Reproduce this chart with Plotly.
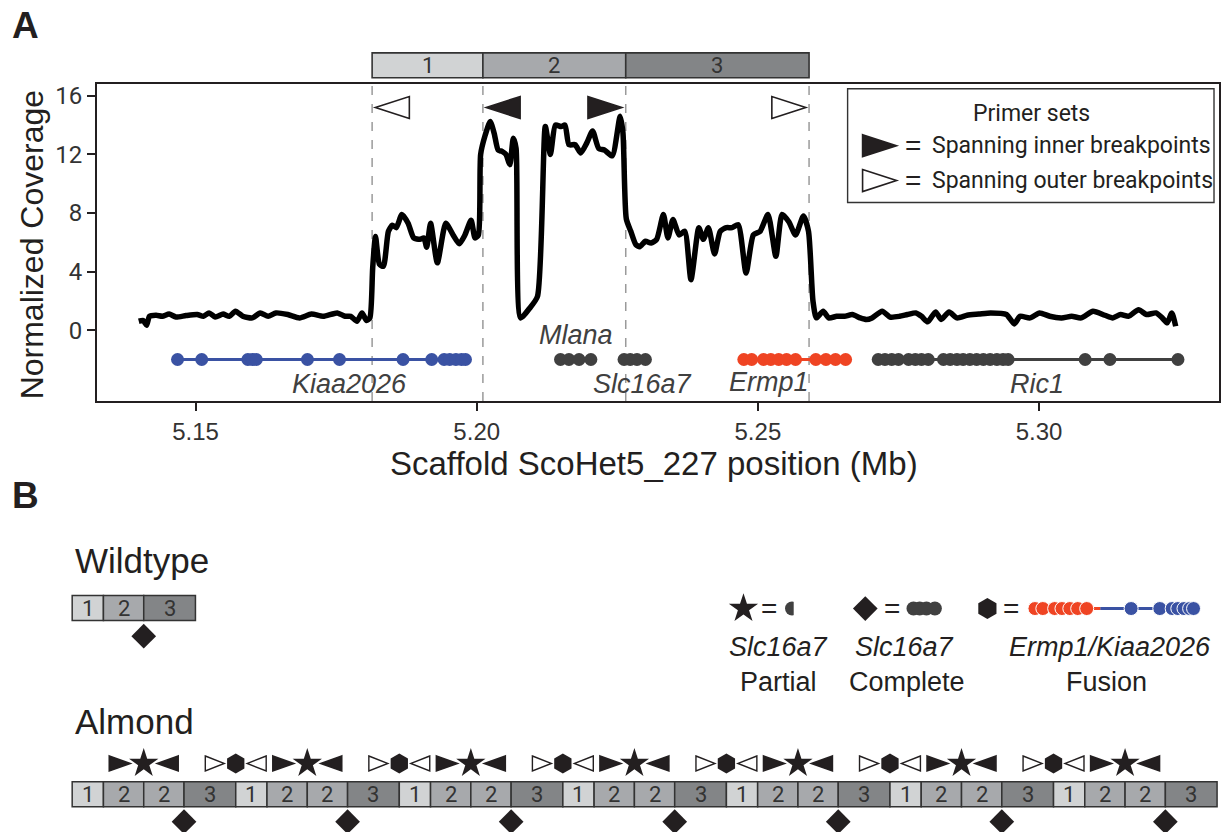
import plotly.graph_objects as go

W, H = 1221, 832

# ---------------- data ----------------
cov_pos = [5.1399, 5.1407, 5.1413, 5.1418, 5.1430, 5.1441, 5.1453, 5.1465, 5.1483, 5.1503,
           5.1514, 5.1524, 5.1535, 5.1549, 5.1560, 5.1571, 5.1584, 5.1601, 5.1615, 5.1629,
           5.1643, 5.1664, 5.1685, 5.1706, 5.1727, 5.1752, 5.1766, 5.1776, 5.1787, 5.1796,
           5.1804, 5.1810, 5.1815, 5.1820, 5.1827, 5.1834, 5.1843, 5.1850, 5.1857, 5.1867,
           5.1878, 5.1888, 5.1899, 5.1906, 5.1911, 5.1918, 5.1930, 5.1945, 5.1958, 5.1969,
           5.1979, 5.1990, 5.1997, 5.2003, 5.2007, 5.2015, 5.2024, 5.2031, 5.2038, 5.2045,
           5.2052, 5.2059, 5.2065, 5.2070, 5.2078, 5.2094, 5.2108, 5.2122, 5.2131, 5.2140,
           5.2150, 5.2157, 5.2164, 5.2175, 5.2185, 5.2196, 5.2206, 5.2217, 5.2227, 5.2241,
           5.2255, 5.2260, 5.2266, 5.2274, 5.2283, 5.2290, 5.2300, 5.2310, 5.2320, 5.2332,
           5.2340, 5.2349, 5.2360, 5.2370, 5.2381, 5.2395, 5.2403, 5.2412, 5.2423, 5.2433,
           5.2444, 5.2454, 5.2465, 5.2479, 5.2492, 5.2504, 5.2518, 5.2532, 5.2543, 5.2555,
           5.2567, 5.2581, 5.2590, 5.2598, 5.2604, 5.2616, 5.2626, 5.2640, 5.2654, 5.2668,
           5.2682, 5.2693, 5.2703, 5.2721, 5.2735, 5.2752, 5.2766, 5.2781, 5.2791, 5.2802,
           5.2816, 5.2826, 5.2840, 5.2854, 5.2872, 5.2893, 5.2914, 5.2942, 5.2956, 5.2966,
           5.2984, 5.3001, 5.3019, 5.3040, 5.3058, 5.3075, 5.3096, 5.3117, 5.3131, 5.3145,
           5.3159, 5.3177, 5.3191, 5.3208, 5.3219, 5.3228, 5.3236, 5.3243]
cov_val = [0.61, 0.66, 0.34, 0.95, 1.02, 0.95, 1.10, 0.90, 1.00, 1.07,
           0.95, 1.18, 0.90, 1.10, 0.95, 1.30, 0.95, 0.84, 1.18, 0.95,
           1.18, 1.07, 0.84, 1.10, 0.95, 1.18, 0.95, 0.95, 0.61, 1.18,
           0.66, 0.84, 4.25, 6.40, 4.50, 4.36, 6.75, 7.16, 7.00, 7.90,
           7.30, 6.30, 6.20, 6.30, 5.66, 7.30, 4.60, 7.30, 6.50, 5.90,
           6.50, 7.50, 6.30, 6.50, 12.00, 13.30, 14.25, 13.45, 12.30, 12.20,
           12.00, 11.30, 13.10, 12.40, 0.84, 1.50, 2.30, 13.90, 12.00, 14.00,
           13.90, 14.00, 12.66, 12.66, 12.10, 12.80, 13.60, 12.40, 12.30, 11.90,
           14.60, 13.50, 7.60, 6.75, 5.84, 5.70, 6.07, 5.95, 6.20, 7.90,
           6.30, 7.55, 6.50, 6.75, 3.45, 7.00, 6.20, 7.00, 5.20, 6.75,
           7.00, 7.00, 7.20, 3.90, 6.50, 6.75, 7.90, 5.05, 7.90, 7.40,
           6.50, 7.80, 6.75, 1.98, 0.84, 1.30, 0.84, 0.95, 0.95, 1.07,
           0.84, 0.73, 0.84, 1.30, 0.90, 0.95, 1.07, 1.18, 0.95, 0.57,
           1.25, 0.73, 1.25, 0.84, 1.02, 1.10, 1.18, 1.07, 0.43, 0.95,
           0.84, 1.18, 0.95, 0.84, 0.95, 0.84, 1.30, 1.02, 0.84, 1.07,
           0.95, 1.40, 1.07, 1.18, 0.84, 0.50, 1.18, 0.27]

breakpoints = [5.1814, 5.2011, 5.2265, 5.2591]
segment_labels = ["1", "2", "3"]

primer_pos = [5.1850, 5.2047, 5.2228, 5.2555]
primer_dir = ["left", "left", "right", "right"]
primer_filled = [False, True, True, False]
primer_level = 15.2

kiaa2026_exons = [5.1468, 5.1511, 5.1593, 5.1601, 5.1608, 5.1699, 5.1756, 5.1869, 5.1920,
                  5.1942, 5.1952, 5.1963, 5.1973, 5.1980]
mlana_exons = [5.2149, 5.2164, 5.2182, 5.2203]
slc16a7_exons = [5.2262, 5.2273, 5.2285, 5.2300]
ermp1_exons = [5.2475, 5.2489, 5.2510, 5.2523, 5.2537, 5.2551, 5.2567, 5.2603, 5.2621,
               5.2638, 5.2656]
ric1_exons = [5.2714, 5.2726, 5.2738, 5.2750, 5.2768, 5.2780, 5.2791, 5.2803, 5.2830,
              5.2842, 5.2854, 5.2865, 5.2877, 5.2889, 5.2901, 5.2913, 5.2925, 5.2936,
              5.2945, 5.3082, 5.3126, 5.3247]
gene_track_level = -2.0

wildtype_order = [1, 2, 3]
almond_order = [1, 2, 2, 3] * 7

# ---------------- styles ----------------
SANS = "Liberation Sans, Arial, sans-serif"
NARROW = "Roboto, Liberation Sans, sans-serif"
INK = "#231f20"
GREY_TXT = "#404040"
SEG_COL = {1: "#d1d3d4", 2: "#a7a9ac", 3: "#838587"}
BLUE = "#3a52a3"
RED = "#ef4423"
DARK = "#404040"

XR = [5.1325, 5.3320]
YR = [-4.834, 16.817]
XDOM = [97.3 / W, 1.0]
YDOM = [1 - 400 / H, 1 - 82 / H]
PX_PER_MB = (W * (XDOM[1] - XDOM[0])) / (XR[1] - XR[0])
PX_PER_Y = (H * (YDOM[1] - YDOM[0])) / (YR[1] - YR[0])
B_SCALE = 1589.0  # px per Mb for the schematic boxes

fig = go.Figure()
shapes = []
annos = []


def tri_path(cx, cy, direction, w, h):
    if direction == "right":
        pts = [(cx - w / 2, cy - h / 2), (cx + w / 2, cy), (cx - w / 2, cy + h / 2)]
    else:
        pts = [(cx + w / 2, cy - h / 2), (cx - w / 2, cy), (cx + w / 2, cy + h / 2)]
    return "M{},{} L{},{} L{},{} Z".format(*[v for p in pts for v in p])


def tri_shape(cx, cy, direction, w, h, filled, xref, yref, lw=1.6):
    return dict(type="path", path=tri_path(cx, cy, direction, w, h), xref=xref, yref=yref,
                fillcolor=INK if filled else "white", line=dict(color=INK, width=lw))


def txt(x, y, s, size, family=SANS, color=INK, xanchor="center", **kw):
    d = dict(x=x, y=y, xref="x2", yref="y2", text=s, showarrow=False,
             font=dict(size=size, family=family, color=color), xanchor=xanchor,
             yanchor="middle")
    d.update(kw)
    annos.append(d)


# ---------------- panel A ----------------
fig.add_trace(go.Scatter(x=cov_pos, y=cov_val, mode="lines",
                         line=dict(color="black", width=5.5, shape="spline", smoothing=0.6),
                         hoverinfo="skip", showlegend=False))


def gene_trace(exons, color):
    fig.add_trace(go.Scatter(x=exons, y=[gene_track_level] * len(exons), mode="lines+markers",
                             line=dict(color=color, width=3),
                             marker=dict(color=color, size=13, opacity=1),
                             hoverinfo="skip", showlegend=False))


gene_trace(kiaa2026_exons, BLUE)
gene_trace(mlana_exons, DARK)
gene_trace(slc16a7_exons, DARK)
gene_trace(ermp1_exons, RED)
gene_trace(ric1_exons, DARK)

gene_labels = [("Kiaa2026", 5.1774, -3.65), ("Mlana", 5.2177, -0.35), ("Slc16a7", 5.2294, -3.65),
               ("Ermp1", 5.2520, -3.55), ("Ric1", 5.2997, -3.65)]
for name, gx, gy in gene_labels:
    annos.append(dict(x=gx, y=gy, xref="x", yref="y", text="<i>%s</i>" % name, showarrow=False,
                      font=dict(size=27, family=SANS, color=GREY_TXT)))

# dashed breakpoint lines
for b in breakpoints:
    shapes.append(dict(type="line", x0=b, x1=b, y0=0, y1=1, xref="x", yref="y domain",
                       line=dict(color="#9a9a9a", width=1.5, dash="dash"), layer="below"))

# segment boxes above the plot
for i, lab in enumerate(segment_labels):
    x0, x1 = breakpoints[i], breakpoints[i + 1]
    shapes.append(dict(type="rect", x0=x0, x1=x1, y0=51, y1=76, xref="x", yref="y2",
                       fillcolor=SEG_COL[i + 1], line=dict(color="#333333", width=1.6)))
    annos.append(dict(x=(x0 + x1) / 2, y=63.5, xref="x", yref="y2", text=lab, showarrow=False,
                      font=dict(size=22, family=NARROW, color="#333333"), yanchor="middle"))

# primer triangles
for p, d, f in zip(primer_pos, primer_dir, primer_filled):
    shapes.append(tri_shape(p, primer_level, d, 34 / PX_PER_MB, 22 / PX_PER_Y, f, "x", "y"))

# legend box
shapes.append(dict(type="rect", x0=849, x1=1216, y0=87, y1=201, xref="x2", yref="y2",
                   fillcolor="white", line=dict(color="#333333", width=1.4)))
txt(1033, 112, "Primer sets", 23, NARROW)
shapes.append(tri_shape(881, 144, "right", 34, 22, True, "x2", "y2"))
shapes.append(tri_shape(881, 179, "right", 34, 22, False, "x2", "y2"))
txt(914, 144, "=", 28)
txt(914, 179, "=", 28)
txt(932, 144, "Spanning inner breakpoints", 23, NARROW, xanchor="left")
txt(932, 179, "Spanning outer breakpoints", 23, NARROW, xanchor="left")

# panel labels / axis titles
txt(26, 24, "<b>A</b>", 37)
txt(26, 495, "<b>B</b>", 37)
txt(32, 243, "Normalized Coverage", 32, textangle=-90)
txt(655, 463, "Scaffold ScoHet5_227 position (Mb)", 33)

# ---------------- panel B ----------------
seg_len = {k + 1: breakpoints[k + 1] - breakpoints[k] for k in range(3)}


def draw_row(order, x_start, y0, y1):
    x = x_start
    edges = [x]
    for s in order:
        w = seg_len[s] * B_SCALE
        shapes.append(dict(type="rect", x0=x, x1=x + w, y0=y0, y1=y1, xref="x2", yref="y2",
                           fillcolor=SEG_COL[s], line=dict(color="#333333", width=1.5)))
        txt(x + w / 2, (y0 + y1) / 2, str(s), 22, NARROW, "#333333")
        x += w
        edges.append(x)
    return edges


def junction_marks(order, edges, y_top, y_bot):
    stars, hexes, diams = [], [], []
    for i in range(len(order) - 1):
        a, b = order[i], order[i + 1]
        jx = edges[i + 1]
        if (a, b) == (2, 2):
            stars.append(jx)
            shapes.append(tri_shape(jx - 24, y_top, "right", 21, 15, True, "x2", "y2"))
            shapes.append(tri_shape(jx + 24, y_top, "left", 21, 15, True, "x2", "y2"))
        elif (a, b) == (3, 1):
            hexes.append(jx)
            shapes.append(tri_shape(jx - 21, y_top, "right", 19, 15, False, "x2", "y2", 1.4))
            shapes.append(tri_shape(jx + 21, y_top, "left", 19, 15, False, "x2", "y2", 1.4))
        elif (a, b) == (2, 3):
            diams.append(jx)
    for xs, sym, sz, yy in [(stars, "star", 22, y_top), (hexes, "hexagon", 20, y_top),
                            (diams, "diamond", 19, y_bot)]:
        if xs:
            fig.add_trace(go.Scatter(x=xs, y=[yy] * len(xs), xaxis="x2", yaxis="y2", mode="markers",
                                     marker=dict(symbol=sym, size=sz, color=INK, opacity=1,
                                                 line=dict(width=0)),
                                     hoverinfo="skip", showlegend=False))


txt(73, 560, "Wildtype", 35, xanchor="left")
wt_edges = draw_row(wildtype_order, 72.3, 595, 620)
junction_marks(wildtype_order, wt_edges, 0, 635.7)

txt(73, 721, "Almond", 35, xanchor="left")
al_edges = draw_row(almond_order, 72.3, 781.7, 806.7)
junction_marks(almond_order, al_edges, 763.3, 821.7)

# legend of junction products
LY = 608
fig.add_trace(go.Scatter(x=[744.7], y=[LY], xaxis="x2", yaxis="y2", mode="markers",
                         marker=dict(symbol="star", size=22, color=INK, opacity=1),
                         hoverinfo="skip", showlegend=False))
txt(770, LY, "=", 28)
# partial Slc16a7: first exon cut at the breakpoint
cut_x = 795.0
part_x = [cut_x + (e - breakpoints[2]) * PX_PER_MB for e in slc16a7_exons[:1]]
fig.add_trace(go.Scatter(x=part_x, y=[LY], xaxis="x2", yaxis="y2", mode="markers",
                         marker=dict(symbol="circle", size=14, color=DARK, opacity=1),
                         hoverinfo="skip", showlegend=False))
shapes.append(dict(type="rect", x0=cut_x, x1=cut_x + 10, y0=LY - 9, y1=LY + 9, xref="x2",
                   yref="y2", fillcolor="white", line=dict(width=0)))

fig.add_trace(go.Scatter(x=[866.7], y=[LY], xaxis="x2", yaxis="y2", mode="markers",
                         marker=dict(symbol="diamond", size=19, color=INK, opacity=1),
                         hoverinfo="skip", showlegend=False))
txt(893.7, LY, "=", 28)
comp_x = [915 + (e - slc16a7_exons[0]) * PX_PER_MB for e in slc16a7_exons]
fig.add_trace(go.Scatter(x=comp_x, y=[LY] * len(comp_x), xaxis="x2", yaxis="y2",
                         mode="lines+markers", line=dict(color=DARK, width=3),
                         marker=dict(size=14, color=DARK, opacity=1), hoverinfo="skip",
                         showlegend=False))

fig.add_trace(go.Scatter(x=[989], y=[LY], xaxis="x2", yaxis="y2", mode="markers",
                         marker=dict(symbol="hexagon", size=21, color=INK, opacity=1),
                         hoverinfo="skip", showlegend=False))
txt(1013, LY, "=", 28)
JX = 1102.0
red_part = [e for e in ermp1_exons if e < breakpoints[3]]
blue_part = [e for e in kiaa2026_exons if e > breakpoints[0]]
red_x = [JX + (e - breakpoints[3]) * PX_PER_MB for e in red_part] + [JX]
blue_x = [JX] + [JX + (e - breakpoints[0]) * PX_PER_MB for e in blue_part]
fig.add_trace(go.Scatter(x=blue_x, y=[LY] * len(blue_x), xaxis="x2", yaxis="y2",
                         mode="lines+markers", line=dict(color=BLUE, width=3),
                         marker=dict(size=[0] + [14] * len(blue_part), color=BLUE, opacity=1),
                         hoverinfo="skip", showlegend=False))
fig.add_trace(go.Scatter(x=red_x, y=[LY] * len(red_x), xaxis="x2", yaxis="y2",
                         mode="lines+markers", line=dict(color=RED, width=3),
                         marker=dict(size=[14] * len(red_part) + [0], color=RED, opacity=1),
                         hoverinfo="skip", showlegend=False))

txt(780, 647, "<i>Slc16a7</i>", 27)
txt(780, 682, "Partial", 27)
txt(906, 647, "<i>Slc16a7</i>", 27)
txt(908, 682, "Complete", 27)
txt(1112, 647, "<i>Ermp1/Kiaa2026</i>", 27)
txt(1108, 682, "Fusion", 27)

# ---------------- layout ----------------
fig.update_layout(
    width=W, height=H, margin=dict(l=0, r=0, t=0, b=0),
    paper_bgcolor="white", plot_bgcolor="rgba(0,0,0,0)",
    showlegend=False,
    xaxis=dict(domain=XDOM, range=XR, tickvals=[5.15, 5.20, 5.25, 5.30],
               ticktext=["5.15", "5.20", "5.25", "5.30"], ticks="outside", ticklen=8,
               tickwidth=1.5, tickcolor=INK, showline=True, linecolor=INK, linewidth=2,
               mirror=True, showgrid=False, zeroline=False,
               tickfont=dict(size=24, family=SANS, color="#333333"), anchor="y"),
    yaxis=dict(domain=YDOM, range=YR, tickvals=[0, 4, 8, 12, 16], ticks="outside", ticklen=8,
               tickwidth=1.5, tickcolor=INK, showline=True, linecolor=INK, linewidth=2,
               mirror=True, showgrid=False, zeroline=False,
               tickfont=dict(size=24, family=NARROW, color="#333333"), anchor="x"),
    xaxis2=dict(domain=[0, 1], range=[0, W], visible=False, anchor="y2", fixedrange=True),
    yaxis2=dict(domain=[0, 1], range=[H, 0], visible=False, anchor="x2", fixedrange=True),
    shapes=shapes, annotations=annos,
)

fig.write_html("out.html", config={"displayModeBar": False},
               post_script="document.body.style.margin='0';document.body.style.overflow='hidden';")
